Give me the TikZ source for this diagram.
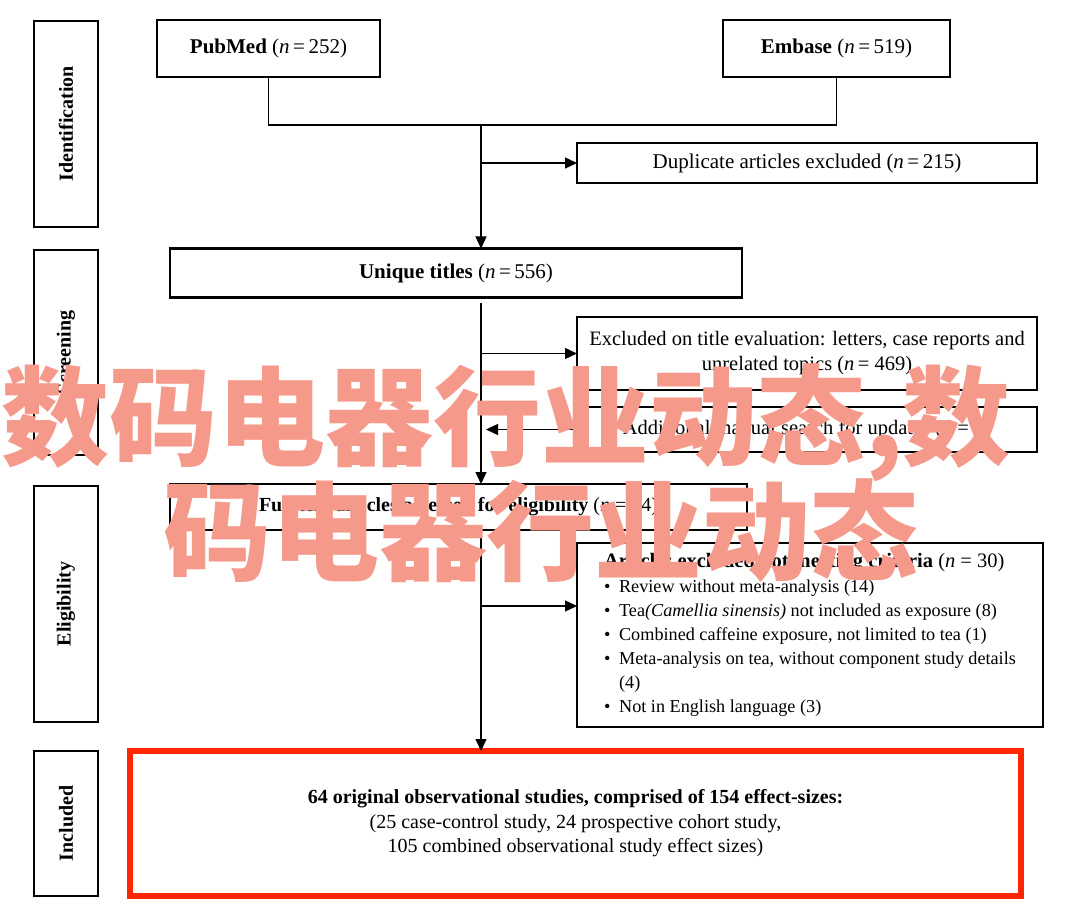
\documentclass[tikz,border=0pt]{standalone}
\usepackage{fontspec}
\setmainfont{Liberation Serif}
\newfontfamily\cjkfont{Noto Sans CJK SC}
\usetikzlibrary{arrows.meta}
\definecolor{inclRed}{RGB}{255,38,0}
\definecolor{markSalmon}{RGB}{245,153,138}

\begin{document}
\begin{tikzpicture}
[x=1pt,y=-1pt,
  phaseDecorate/.style={draw,line width=2.2pt,inner sep=0pt,outer sep=0pt,rotate=90,minimum height=64,font=\fontsize{20}{24}\selectfont\bfseries},%
  boxDecorate/.style={draw,line width=2.2pt,inner sep=0pt,outer sep=0pt,align=center,font=\fontsize{21}{25}\selectfont},%
  lineDecorate/.style={-,line width=1.3pt},%
  arrowDecorate/.style={lineDecorate,-{Triangle[length=12pt,width=11pt]}},%
  markDecorate/.style={text=markSalmon,inner sep=0pt,anchor=base,font=\fontsize{108}{115}\selectfont\cjkfont\bfseries}]
\useasboundingbox (0,0) rectangle (1080,915);
%% phase labels
\foreach \nodename/\y/\h/\txt in {
  ident/124/206/Identification, screen/352.5/205/Screening,
  elig/604/236/Eligibility, incl/823.5/145/Included}
{
  \node (\nodename) at (66,\y) [phaseDecorate,minimum width=\h] {\txt};
}
%% boxes
\node (pubmed) at (268.5,48.5) [boxDecorate,minimum width=223,minimum height=57] {\textbf{PubMed} (\textit{n}\,=\,252)};
\node (embase) at (836.5,48.5) [boxDecorate,minimum width=227,minimum height=57] {\textbf{Embase} (\textit{n}\,=\,519)};
\node (dup) at (807,163) [boxDecorate,minimum width=460,minimum height=40] {Duplicate articles excluded (\textit{n}\,=\,215)};
\node (unique) at (456,273) [boxDecorate,minimum width=572,minimum height=49] {\textbf{Unique titles} (\textit{n}\,=\,556)};
\node (exclTitle) at (807,353.5) [boxDecorate,minimum width=460,minimum height=73,font=\fontsize{20.5}{25}\selectfont] {Excluded on title evaluation: letters, case reports and\\unrelated topics (\textit{n}\,= 469)};
\node (addSearch) at (807,429.5) [boxDecorate,minimum width=460,minimum height=45,font=\fontsize{20.5}{25}\selectfont] {Additional manual search for updates (\textit{n} = 7)};
\node (fullText) at (458.5,507) [boxDecorate,minimum width=577,minimum height=46,font=\fontsize{20}{24}\selectfont] {\textbf{Full text articles assessed for eligibility} (\textit{n} = 94)};
\node (artExcl) at (810,635) [boxDecorate,minimum width=466,minimum height=184,align=left,font=\fontsize{18.2}{24}\selectfont] {%
  {\fontsize{20.5}{24}\selectfont\textbf{Articles excluded not meeting criteria} (\textit{n} = 30)}\\[1pt]
  \makebox[15pt][l]{\textbullet}Review without meta-analysis (14)\\
  \makebox[15pt][l]{\textbullet}Tea\textit{(Camellia sinensis)} not included as exposure (8)\\
  \makebox[15pt][l]{\textbullet}Combined caffeine exposure, not limited to tea (1)\\
  \makebox[15pt][l]{\textbullet}Meta-analysis on tea, without component study details\\
  \hspace*{15pt}(4)\\
  \makebox[15pt][l]{\textbullet}Not in English language (3)};
\node (included) at (575.5,823.5) [boxDecorate,draw=inclRed,line width=6pt,minimum width=891,minimum height=145,font=\fontsize{20}{24.5}\selectfont] {%
  \textbf{64 original observational studies, comprised of 154 effect-sizes:}\\
  (25 case-control study, 24 prospective cohort study,\\
  105 combined observational study effect sizes)};
%% connectors
\coordinate (junct) at (481,125);
\coordinate (branch) at (481,606);
\draw[lineDecorate] (pubmed.south) |- (junct) -| (embase.south);
\draw[arrowDecorate] (junct) -- (junct |- unique.north);
\draw[arrowDecorate] (junct |- dup.west) -- (dup.west);
\draw[arrowDecorate,shorten <=5pt] (junct |- unique.south) -- (junct |- fullText.north);
\draw[arrowDecorate] (junct |- exclTitle.west) -- (exclTitle.west);
\draw[arrowDecorate,shorten >=5pt] (addSearch.west) -- (junct |- addSearch.west);
\draw[arrowDecorate] (junct |- fullText.south) -- (junct |- included.north);
\draw[arrowDecorate] (branch) -- (branch -| artExcl.west);
%% overlay text
\node (markA) at (506,457) [markDecorate] {数码电器行业动态,数};
\node (markB) at (541,572) [markDecorate] {码电器行业动态};
\end{tikzpicture}
\end{document}
